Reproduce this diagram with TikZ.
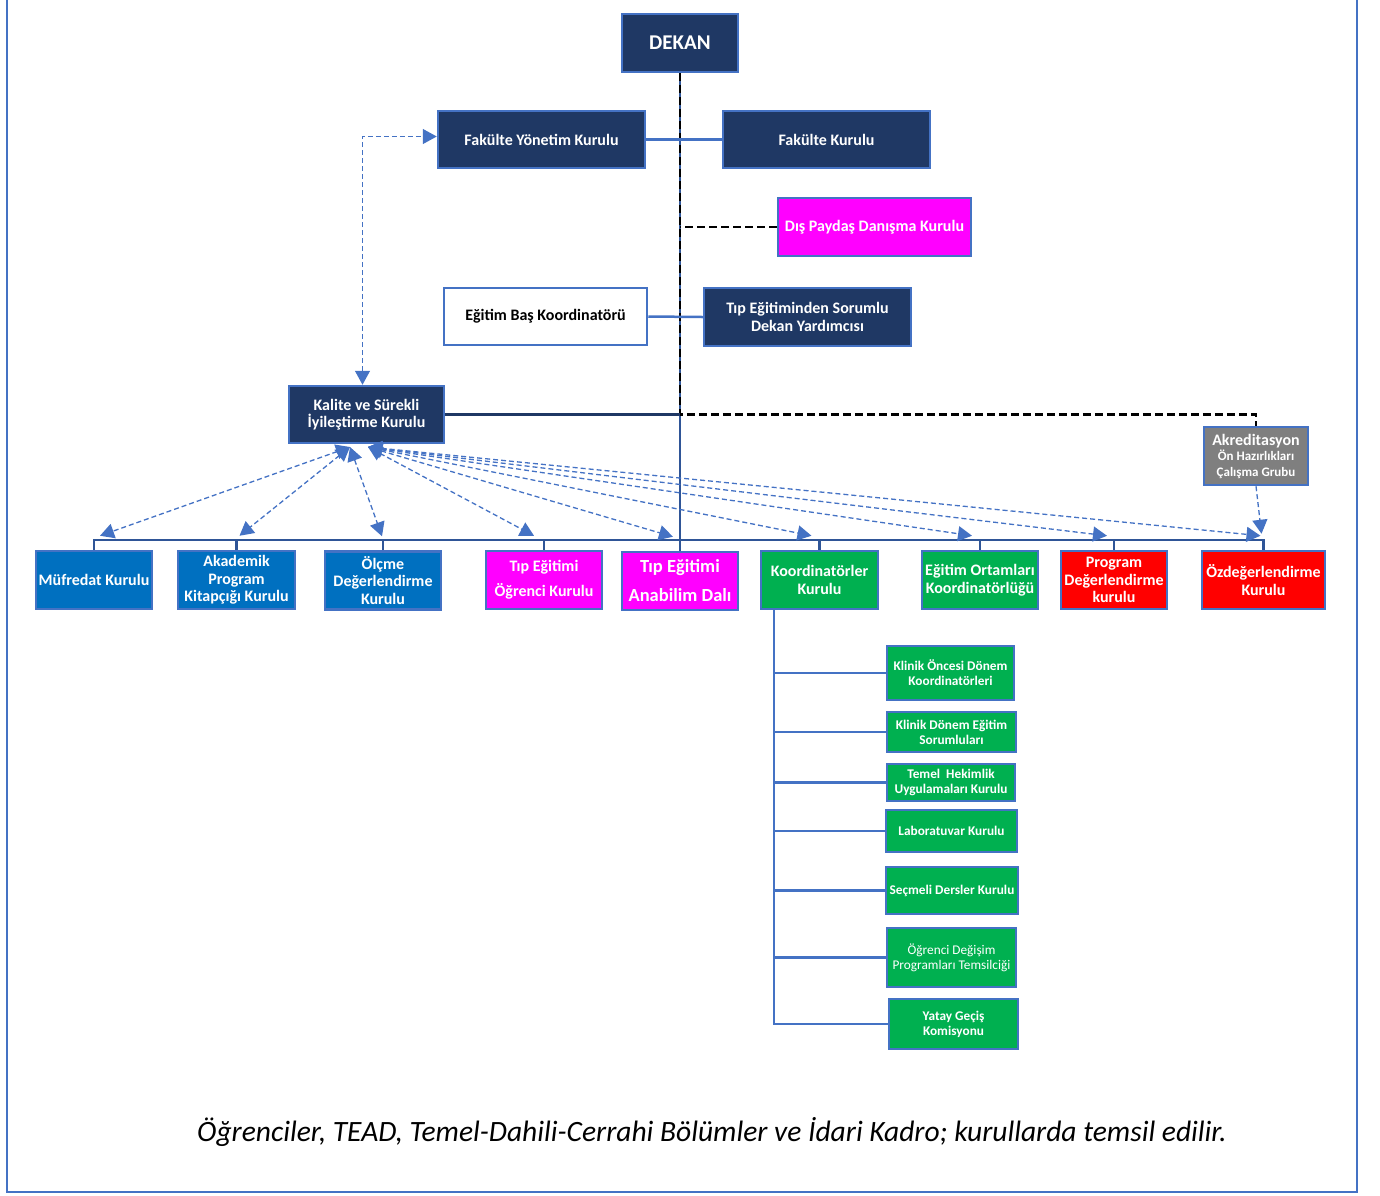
\documentclass[tikz,border=0pt]{standalone}
\usepackage{fontspec}
\setmainfont{Carlito}
\usetikzlibrary{arrows.meta}
\definecolor{pNavy}{RGB}{31,56,100}
\definecolor{pEdge}{RGB}{68,114,196}
\definecolor{pLink}{RGB}{47,85,151}
\definecolor{pBlue}{RGB}{0,112,192}
\definecolor{pMagenta}{RGB}{255,0,255}
\definecolor{pGreen}{RGB}{0,176,80}
\definecolor{pRed}{RGB}{255,0,0}
\definecolor{pGray}{RGB}{127,127,127}
\tikzset{
    box/.style={draw=pEdge, line width=2.5pt, text=white, align=center, inner sep=1pt, font=\bfseries\fontsize{16}{17.5}\selectfont},
    row/.style={box, minimum width=116pt, minimum height=58pt},
    sub/.style={box, font=\bfseries\fontsize{13.3}{15}\selectfont},
    link/.style={pEdge, line width=2.5pt},
    bus/.style={pLink, line width=2.5pt},
    blk/.style={black, line width=2.5pt, dash pattern=on 8pt off 4pt},
    darr/.style={pEdge, line width=1.3pt, dash pattern=on 5pt off 3pt, {Triangle[length=14pt,width=15pt]}-{Triangle[length=14pt,width=15pt]}},
    sarr/.style={pEdge, line width=1.3pt, dash pattern=on 5pt off 3pt, -{Triangle[length=14pt,width=15pt]}}
}

\begin{document}
\begin{tikzpicture}[x=1pt,y=-1pt]
\useasboundingbox (0,0) rectangle (1380,1195);
\draw[pEdge, line width=2pt] (7,-10) rectangle (1357,1192);

\node[box, fill=pNavy, minimum width=116pt, minimum height=58pt, font=\bfseries\fontsize{21}{24}\selectfont] (dekan) at (680,43) {DEKAN};
\node[box, fill=pNavy, minimum width=207pt, minimum height=57pt] (fyk) at (541.5,139.5) {Fakülte Yönetim Kurulu};
\node[box, fill=pNavy, minimum width=207pt, minimum height=57pt] (fk)  at (826.5,139.5) {Fakülte Kurulu};
\node[box, fill=pMagenta, minimum width=193pt, minimum height=58pt] (dis) at (874.5,227) {Dış Paydaş Danışma Kurulu};
\node[box, fill=white, text=black, minimum width=203pt, minimum height=57pt] (ebk) at (545.5,316.5) {Eğitim Baş Koordinatörü};
\node[box, fill=pNavy, minimum width=207pt, minimum height=58pt] (tsd) at (807.5,317) {Tıp Eğitiminden Sorumlu\\Dekan Yardımcısı};
\node[box, fill=pNavy, minimum width=155pt, minimum height=57pt] (kalite) at (366.5,414.5) {Kalite ve Sürekli\\İyileştirme Kurulu};
\node[box, fill=pGray, minimum width=104pt, minimum height=58pt, font=\bfseries\fontsize{16}{15.5}\selectfont] (akr) at (1256,456)
    {Akreditasyon\\\fontsize{13}{15.5}\selectfont Ön Hazırlıkları\\\fontsize{13}{15.5}\selectfont Çalışma Grubu};

\node[row, fill=pBlue] (mufredat) at (94,580) {Müfredat Kurulu};
\node[row, fill=pBlue, minimum width=117pt] (akademik) at (236.5,580) {Akademik\\Program\\Kitapçığı Kurulu};
\node[row, fill=pBlue] (olcme) at (383,580.5) {Ölçme\\Değerlendirme\\Kurulu};
\node[row, fill=pMagenta, font=\bfseries\fontsize{16}{25}\selectfont] (tipogr) at (544,580) {Tıp Eğitimi\\Öğrenci Kurulu};
\node[row, fill=pMagenta, font=\bfseries\fontsize{18.5}{29}\selectfont] (tipabd) at (680,581) {Tıp Eğitimi\\Anabilim Dalı};
\node[row, fill=pGreen, minimum width=117pt] (koord) at (819.5,580) {Koordinatörler\\Kurulu};
\node[row, fill=pGreen] (egort) at (980,580) {Eğitim Ortamları\\Koordinatörlüğü};
\node[row, fill=pRed, minimum width=106pt] (progdeg) at (1114,580) {Program\\Değerlendirme\\kurulu};
\node[row, fill=pRed, minimum width=123pt] (ozdeg) at (1263.5,580) {Özdeğerlendirme\\Kurulu};

\node[sub, fill=pGreen, minimum width=127pt, minimum height=54pt] (kod) at (950.5,673) {Klinik Öncesi Dönem\\Koordinatörleri};
\node[sub, fill=pGreen, minimum width=129pt, minimum height=40pt] (kdes) at (951.5,732) {Klinik Dönem Eğitim\\Sorumluları};
\node[sub, fill=pGreen, minimum width=128pt, minimum height=37pt] (thu) at (951,782.5) {Temel~ Hekimlik\\Uygulamaları Kurulu};
\node[sub, fill=pGreen, minimum width=131pt, minimum height=42pt] (lab) at (951.5,831) {Laboratuvar Kurulu};
\node[sub, fill=pGreen, minimum width=132pt, minimum height=47pt] (sec) at (952,890.5) {Seçmeli Dersler Kurulu};
\node[sub, fill=pGreen, minimum width=129pt, minimum height=59pt, font=\fontsize{13.3}{15}\selectfont] (ode) at (951.5,957.5) {Öğrenci Değişim\\Programları Temsilciği};
\node[sub, fill=pGreen, minimum width=129pt, minimum height=50pt] (ygk) at (953.5,1024) {Yatay Geçiş\\Komisyonu};

\node[font=\itshape\fontsize{29.5}{32}\selectfont] (note) at (712,1132) {Öğrenciler, TEAD, Temel-Dahili-Cerrahi Bölümler ve İdari Kadro; kurullarda temsil edilir.};

\coordinate (busy) at (0,540);
\coordinate (trunk) at ([xshift=-45.5pt]koord.south);
\coordinate (kl) at (350,447);
\coordinate (kr) at (368,447);

\draw[bus] (dekan.south) -- (tipabd.north);
\draw[blk] (dekan.south) -- (dekan.south |- kalite.east) -| (akr.north);
\draw[blk] (dis.west) -- (dis.west -| dekan.south);
\draw[pNavy, line width=2.5pt] (kalite.east) -- (kalite.east -| dekan.south);
\draw[link] (fyk.east) -- (fk.west);
\draw[link] (ebk.east) -- (tsd.west);
\draw[darr] ([xshift=-4pt]kalite.north) |- ([yshift=3pt]fyk.west);

\draw[bus] (mufredat.north) |- (ozdeg.north |- busy) -- (ozdeg.north);
\foreach \n in {akademik,olcme,tipogr,koord,egort,progdeg}
    \draw[bus] (\n.north) -- (\n.north |- busy);

\foreach \n/\dx in {mufredat/6,akademik/3,olcme/-1}
    \draw[darr] (kl) -- ([xshift=\dx pt, yshift=14pt]\n.north);
\foreach \n/\dx in {tipogr/-10,tipabd/-7,koord/-8,egort/-8,progdeg/-7,ozdeg/-3}
    \draw[darr] (kr) -- ([xshift=\dx pt, yshift=14pt]\n.north);
\draw[sarr] (akr.south) -- ([xshift=-2pt, yshift=16pt]ozdeg.north);

\draw[link] (trunk) |- (ygk.west);
\foreach \n in {kod,kdes,thu,lab,sec,ode}
    \draw[link] (\n.west -| trunk) -- (\n.west);
\end{tikzpicture}
\end{document}
